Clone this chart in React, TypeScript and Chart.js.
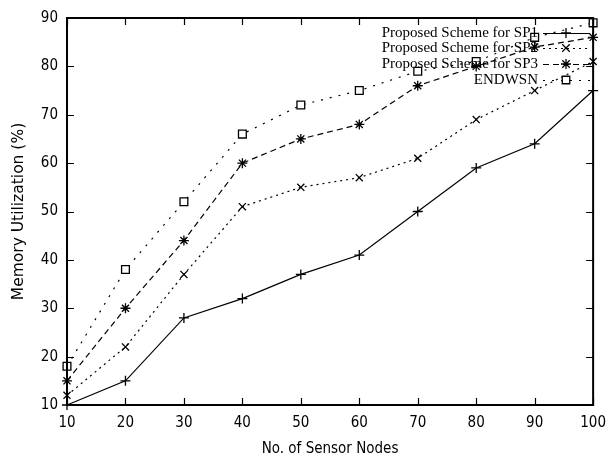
import React, { useEffect, useRef } from 'react';
import { Chart, registerables } from 'chart.js';

Chart.register(...registerables);

// ---- data ----
const nodes = [10, 20, 30, 40, 50, 60, 70, 80, 90, 100];
const sp1 = [10, 15, 28, 32, 37, 41, 50, 59, 64, 75];
const sp2 = [12, 22, 37, 51, 55, 57, 61, 69, 75, 81];
const sp3 = [15, 30, 44, 60, 65, 68, 76, 80, 84, 86];
const endwsn = [18, 38, 52, 66, 72, 75, 79, 81, 86, 89];
const seriesLabels = [
  'Proposed Scheme for SP1',
  'Proposed Scheme for SP2',
  'Proposed Scheme for SP3',
  'ENDWSN',
];
const xTickValues = [10, 20, 30, 40, 50, 60, 70, 80, 90, 100];
const yTickValues = [10, 20, 30, 40, 50, 60, 70, 80, 90];
const xTitle = 'No. of Sensor Nodes';
const yTitle = 'Memory Utilization (%)';

const seriesValues = [sp1, sp2, sp3, endwsn];
const seriesStyles = [
  { dash: [] as number[], marker: 'cross' },
  { dash: [2, 4], marker: 'crossRot' },
  { dash: [6, 4], marker: 'star' },
  { dash: [2, 7], marker: 'rect' },
];

const TICK_FONT = "'Liberation Sans Narrow', 'DejaVu Sans Condensed', 'Liberation Sans', sans-serif";

function drawMarker(ctx: CanvasRenderingContext2D, style: string, x: number, y: number, r: number) {
  ctx.save();
  ctx.setLineDash([]);
  ctx.strokeStyle = '#000';
  ctx.lineWidth = 1.3;
  ctx.beginPath();
  if (style === 'cross' || style === 'star') {
    ctx.moveTo(x - r, y);
    ctx.lineTo(x + r, y);
    ctx.moveTo(x, y - r);
    ctx.lineTo(x, y + r);
  }
  if (style === 'crossRot' || style === 'star') {
    const d = r * 0.75;
    ctx.moveTo(x - d, y - d);
    ctx.lineTo(x + d, y + d);
    ctx.moveTo(x - d, y + d);
    ctx.lineTo(x + d, y - d);
  }
  if (style === 'rect') {
    const s = r * 0.75;
    ctx.rect(x - s, y - s, 2 * s, 2 * s);
    ctx.fillStyle = '#fff';
    ctx.fill();
  }
  ctx.stroke();
  ctx.restore();
}

const framePlugin = {
  id: 'frameTicks',
  afterDatasetsDraw(chart: any) {
    const { ctx, chartArea, scales } = chart;
    const { left, right, top, bottom } = chartArea;
    ctx.save();
    ctx.strokeStyle = '#000';
    ctx.lineWidth = 1.2;
    ctx.setLineDash([]);
    const tl = 7;
    ctx.beginPath();
    xTickValues.forEach((v) => {
      const px = Math.round(scales.x.getPixelForValue(v)) + 0.5;
      ctx.moveTo(px, bottom);
      ctx.lineTo(px, bottom - tl);
      ctx.moveTo(px, top);
      ctx.lineTo(px, top + tl);
    });
    yTickValues.forEach((v) => {
      const py = Math.round(scales.y.getPixelForValue(v)) + 0.5;
      ctx.moveTo(left, py);
      ctx.lineTo(left + tl, py);
      ctx.moveTo(right, py);
      ctx.lineTo(right - tl, py);
    });
    ctx.stroke();
    ctx.lineWidth = 2;
    ctx.strokeRect(left, top, right - left, bottom - top);
    ctx.restore();
  },
  afterDraw(chart: any) {
    const { ctx } = chart;
    const textRight = 538;
    const lineStart = 543;
    const lineEnd = 590;
    const markerX = 566;
    const rowsY = [33, 48, 64, 80];
    ctx.save();
    ctx.font = "15px 'Liberation Serif', 'DejaVu Serif', serif";
    ctx.textAlign = 'right';
    ctx.textBaseline = 'middle';
    ctx.fillStyle = '#000';
    seriesLabels.forEach((label, i) => {
      const y = rowsY[i];
      ctx.fillText(label, textRight, y);
      ctx.save();
      ctx.strokeStyle = '#000';
      ctx.lineWidth = 1.2;
      ctx.setLineDash(seriesStyles[i].dash);
      ctx.beginPath();
      ctx.moveTo(lineStart, y + 0.5);
      ctx.lineTo(lineEnd, y + 0.5);
      ctx.stroke();
      ctx.restore();
      drawMarker(ctx, seriesStyles[i].marker, markerX, y, 5);
    });
    ctx.restore();
  },
};

export default function App() {
  const canvasRef = useRef<HTMLCanvasElement | null>(null);

  useEffect(() => {
    const canvas = canvasRef.current;
    if (!canvas) return;
    const datasets = seriesValues.map((vals, i) => ({
      label: seriesLabels[i],
      data: nodes.map((x, j) => ({ x, y: vals[j] })),
      borderColor: '#000',
      backgroundColor: seriesStyles[i].marker === 'rect' ? '#fff' : '#000',
      borderWidth: 1.2,
      borderDash: seriesStyles[i].dash,
      pointStyle: seriesStyles[i].marker as any,
      pointRadius: seriesStyles[i].marker === 'rect' ? 5.5 : 5,
      pointBorderWidth: 1.3,
      pointBorderColor: '#000',
      pointBackgroundColor: '#fff',
      tension: 0,
      fill: false,
      clip: false as any,
    }));

    const chart = new Chart(canvas, {
      type: 'line',
      data: { datasets },
      plugins: [framePlugin],
      options: {
        responsive: false,
        animation: false,
        layout: { padding: { top: 15, right: 15, left: 0, bottom: 0 } },
        plugins: {
          legend: { display: false },
          tooltip: { enabled: false },
        },
        scales: {
          x: {
            type: 'linear',
            min: 10,
            max: 100,
            afterBuildTicks: (scale: any) => {
              scale.ticks = xTickValues.map((v) => ({ value: v }));
            },
            afterFit: (scale: any) => {
              scale.height = 52;
            },
            grid: { display: false, drawTicks: false },
            border: { display: false },
            ticks: {
              color: '#000',
              padding: 9,
              autoSkip: false,
              maxRotation: 0,
              font: { family: TICK_FONT, size: 15 },
            },
            title: {
              display: true,
              text: xTitle,
              color: '#000',
              font: { family: TICK_FONT, size: 15, lineHeight: 1 },
              padding: { top: 0.5, bottom: 0 },
            },
          },
          y: {
            type: 'linear',
            min: 10,
            max: 90,
            afterBuildTicks: (scale: any) => {
              scale.ticks = yTickValues.map((v) => ({ value: v }));
            },
            afterFit: (scale: any) => {
              scale.width = 67;
            },
            grid: { display: false, drawTicks: false },
            border: { display: false },
            ticks: {
              color: '#000',
              padding: 9,
              autoSkip: false,
              font: { family: TICK_FONT, size: 15 },
            },
            title: {
              display: true,
              text: yTitle,
              color: '#000',
              font: { family: "'DejaVu Sans', sans-serif", size: 15.5, lineHeight: 1.2 },
              padding: { top: 10, bottom: 0 },
            },
          },
        },
      },
    });
    return () => chart.destroy();
  }, []);

  return (
    <div style={{ position: 'fixed', left: 0, top: 0, width: 615, height: 457, background: '#fff' }}>
      <canvas ref={canvasRef} width={615} height={457} style={{ display: 'block' }} />
    </div>
  );
}
